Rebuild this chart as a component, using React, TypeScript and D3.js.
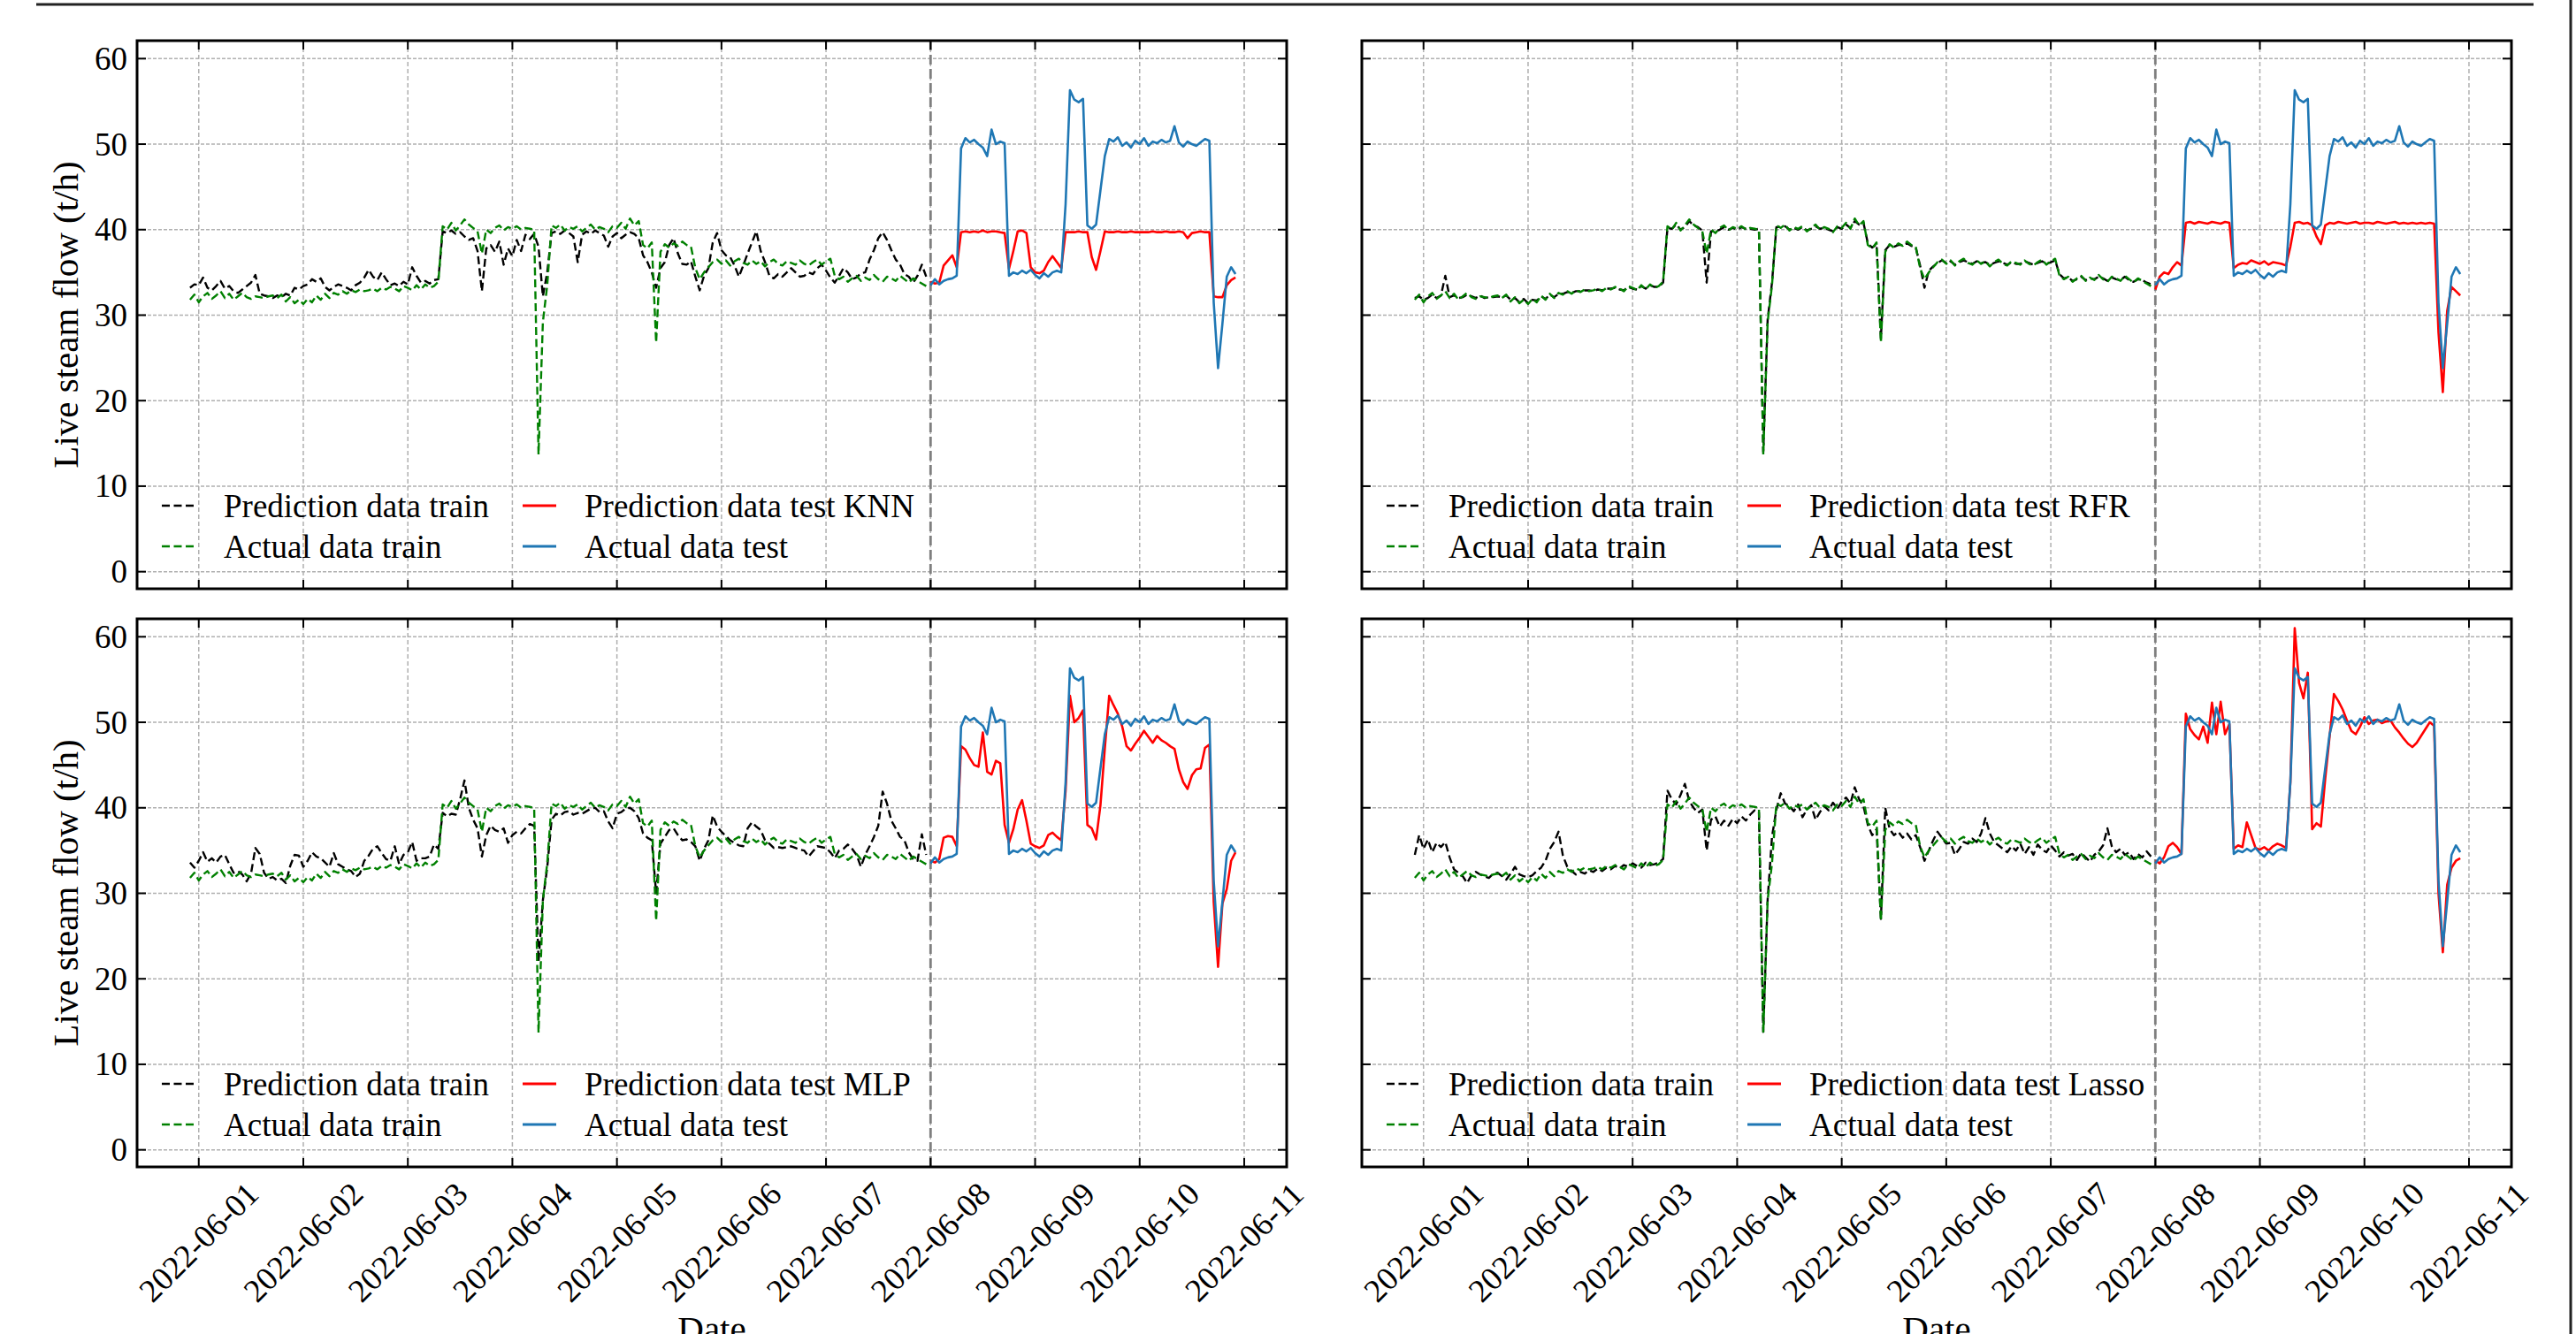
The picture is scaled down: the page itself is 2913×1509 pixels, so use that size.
import React from 'react';
import * as d3 from 'd3';

// hourly samples, hours counted from 2022-06-01 00:00 (UTC)
const trainStartHour = -2;
const testStartHour = 168;
const splitDay = '2022-06-08';

const dateTicks = [
  '2022-06-01', '2022-06-02', '2022-06-03', '2022-06-04', '2022-06-05', '2022-06-06',
  '2022-06-07', '2022-06-08', '2022-06-09', '2022-06-10', '2022-06-11',
];
const valueTicks = [0, 10, 20, 30, 40, 50, 60];
const seriesLabels = ['Prediction data train', 'Actual data train', 'Prediction data test', 'Actual data test'];
const modelNames = ['KNN', 'RFR', 'MLP', 'Lasso'];

// measured steam flow, train period (h -2 .. 167)
const actualTrain = [
  31.8, 32.4, 31.5, 32.2, 32.6, 31.9, 32.3, 32.8, 32.0, 32.5,
  31.8, 32.2, 32.6, 32.1, 31.9, 32.2, 32.1, 32.0, 32.2, 32.3,
  32.0, 32.4, 31.6, 32.1, 31.4, 31.8, 31.3, 31.9, 31.5, 32.3,
  31.8, 32.5, 32.0, 32.6, 32.4, 32.8, 32.5, 32.9, 32.7, 33.0,
  32.8, 32.9, 33.1, 32.8, 33.2, 33.0, 33.3, 33.1, 32.8, 33.4,
  33.2, 32.9, 33.5, 33.0, 33.6, 33.2, 33.4, 33.9, 40.4, 40.0,
  40.8, 39.9, 40.5, 41.2, 40.6, 40.2, 39.8, 37.2, 40.0, 39.6,
  40.2, 40.5, 39.9, 40.3, 40.1, 40.4, 40.0, 40.2, 40.1, 40.0,
  13.7, 29.2, 33.5, 40.5, 40.2, 40.6, 39.9, 40.3, 40.1, 40.4,
  39.8, 40.2, 40.6, 40.0, 40.3, 40.1, 39.7, 40.4, 40.2, 40.8,
  40.1, 41.3, 40.5, 41.0, 38.2, 37.8, 38.5, 26.8, 37.4, 38.3,
  37.9, 38.4, 38.1, 38.6, 38.2, 38.0, 35.5, 34.2, 35.0, 35.6,
  36.2, 36.5, 36.0, 36.4, 35.8, 36.3, 36.6, 36.1, 35.9, 36.4,
  36.0, 36.3, 35.7, 36.2, 36.5, 36.0, 35.8, 36.3, 36.1, 35.9,
  36.4, 36.0, 35.8, 36.2, 36.5, 35.9, 36.3, 36.6, 34.6, 34.2,
  34.5, 33.9, 34.3, 34.6, 34.0, 34.4, 34.1, 34.7, 34.2, 33.9,
  34.5, 34.3, 34.0, 34.6, 34.2, 33.8, 34.3, 34.0, 33.7, 33.4,
];

// measured steam flow, test period (h 168 .. 238)
const actualTest = [
  33.5, 34.2, 33.6, 34.0, 34.2, 34.3, 34.6, 49.5, 50.7, 50.2,
  50.5, 50.0, 49.6, 48.6, 51.7, 50.0, 50.3, 50.1, 34.6, 35.0,
  34.8, 35.2, 34.9, 35.3, 34.7, 34.3, 34.9, 34.5, 35.0, 35.2,
  35.0, 43.0, 56.3, 55.2, 54.9, 55.3, 40.5, 40.1, 40.6, 44.6,
  48.6, 50.6, 50.3, 50.8, 49.8, 50.2, 49.6, 50.4, 50.0, 50.7,
  49.8, 50.3, 50.1, 50.5, 50.2, 50.4, 52.1, 50.2, 49.7, 50.3,
  50.0, 49.8, 50.2, 50.6, 50.4, 31.5, 23.8, 29.0, 34.5, 35.6,
  34.8,
];

const knnTrain = [
  33.2, 33.6, 33.5, 34.4, 33.2, 32.9, 33.4, 34.0, 33.1, 33.4,
  32.8, 32.6, 33.0, 33.4, 33.8, 34.7, 32.5, 32.3, 32.2, 32.0,
  32.3, 32.1, 32.5, 32.3, 33.2, 33.0, 33.4, 33.6, 34.2, 33.9,
  34.3, 33.3, 32.9, 33.3, 33.6, 33.4, 33.2, 32.9, 33.5, 33.8,
  34.4, 35.3, 34.5, 34.1, 35.0, 34.2, 33.5, 33.7, 33.4, 33.9,
  33.6, 35.6, 34.6, 33.8, 34.0, 33.7, 34.1, 34.2, 39.8, 39.6,
  39.9, 39.5, 39.7, 39.2, 38.8, 39.0, 37.5, 32.8, 37.8, 38.2,
  37.4, 38.6, 35.9, 37.8, 36.9, 38.8, 37.5, 39.4, 38.9, 39.5,
  38.0, 32.2, 35.0, 39.6, 39.8, 39.5, 39.9, 39.6, 39.2, 36.2,
  39.4, 39.8, 39.5, 39.9, 39.6, 39.3, 38.0, 39.2, 39.6, 39.0,
  39.4, 39.7, 39.5, 39.0, 37.0, 36.2, 35.0, 33.2, 35.5, 36.2,
  38.2, 39.0, 37.2, 36.0, 35.9, 36.3, 34.5, 32.9, 34.6, 35.5,
  38.5, 39.6, 37.6, 37.0, 36.8, 35.8, 34.5, 35.8, 37.2, 38.5,
  39.8, 37.5, 36.2, 34.6, 34.3, 34.8, 34.5, 35.0, 35.5, 35.0,
  34.5, 34.6, 35.0, 34.8, 35.5, 35.9, 35.2, 34.4, 33.8, 34.6,
  35.5, 35.0, 34.2, 34.4, 34.9, 35.0, 36.5, 37.6, 39.0, 39.7,
  38.8, 37.6, 36.5, 35.9, 34.8, 34.5, 33.8, 34.6, 35.9, 34.5,
];
const knnTest = [
  33.9, 33.7, 33.8, 35.8, 36.4, 37.0, 35.6, 39.7, 39.8, 39.7,
  39.8, 39.7, 39.9, 39.7, 39.8, 39.8, 39.7, 39.6, 35.4, 37.5,
  39.8, 39.9, 39.6, 35.6, 35.0, 34.9, 35.2, 36.2, 36.9, 36.2,
  35.5, 39.7, 39.7, 39.7, 39.8, 39.7, 39.7, 36.8, 35.3, 37.5,
  39.8, 39.7, 39.7, 39.8, 39.7, 39.7, 39.8, 39.7, 39.7, 39.7,
  39.7, 39.8, 39.7, 39.7, 39.8, 39.7, 39.7, 39.8, 39.7, 39.0,
  39.6, 39.7, 39.8, 39.7, 39.7, 32.2, 32.1, 32.1, 33.5, 34.1,
  34.4,
];

const rfrTrain = [
  32.0, 32.2, 31.8, 32.0, 32.4, 32.0, 32.3, 34.6, 32.1, 32.3,
  32.0, 32.1, 32.4, 32.2, 32.0, 32.3, 32.0, 32.1, 32.1, 32.2,
  32.1, 32.3, 31.8, 32.0, 31.5, 31.9, 31.4, 31.8, 31.7, 32.2,
  31.9, 32.4, 32.1, 32.5, 32.5, 32.7, 32.6, 32.8, 32.8, 32.9,
  32.9, 32.8, 33.0, 32.9, 33.1, 33.1, 33.2, 33.0, 32.9, 33.3,
  33.1, 33.0, 33.4, 33.1, 33.5, 33.3, 33.3, 33.8, 40.2, 40.1,
  40.6, 40.0, 40.3, 41.0, 40.5, 40.3, 39.9, 33.8, 39.8, 39.8,
  40.0, 40.3, 40.0, 40.2, 40.0, 40.3, 40.1, 40.1, 40.0, 40.1,
  14.0, 29.5, 33.8, 40.3, 40.3, 40.4, 40.0, 40.2, 40.0, 40.3,
  39.9, 40.1, 40.4, 40.1, 40.2, 40.0, 39.8, 40.3, 40.1, 40.6,
  40.2, 41.0, 40.6, 40.8, 38.4, 37.9, 38.3, 27.3, 37.6, 38.2,
  38.0, 38.2, 38.2, 38.4, 38.1, 37.9, 35.8, 33.2, 35.2, 35.7,
  36.1, 36.4, 36.1, 36.3, 35.9, 36.2, 36.4, 36.2, 36.0, 36.3,
  36.1, 36.2, 35.9, 36.1, 36.3, 36.1, 35.9, 36.2, 36.0, 36.0,
  36.3, 36.1, 35.9, 36.1, 36.3, 36.0, 36.2, 36.4, 34.8, 34.3,
  34.4, 34.0, 34.2, 34.5, 34.1, 34.3, 34.2, 34.5, 34.3, 34.0,
  34.4, 34.2, 34.1, 34.5, 34.1, 33.9, 34.2, 34.1, 33.8, 33.6,
];
const rfrTest = [
  33.0, 34.5, 35.0, 34.8, 35.6, 36.2, 35.8, 40.8, 40.9, 40.7,
  40.9, 40.8, 40.7, 40.9, 40.8, 40.7, 40.9, 40.8, 35.5, 35.9,
  36.1, 36.0, 36.4, 36.2, 36.0, 36.3, 35.9, 36.2, 36.1, 36.0,
  35.8, 38.0, 40.8, 40.9, 40.7, 40.8, 40.5, 39.2, 38.3, 40.5,
  40.8, 40.7, 40.9, 40.8, 40.7, 40.8, 40.9, 40.7, 40.8, 40.8,
  40.7, 40.9, 40.8, 40.7, 40.8, 40.9, 40.7, 40.8, 40.7, 40.8,
  40.7, 40.8, 40.7, 40.8, 40.7, 28.0, 21.0, 30.5, 33.3, 32.8,
  32.3,
];

const mlpTrain = [
  33.6, 33.0, 33.8, 34.8, 33.7, 34.1, 33.6, 34.3, 34.5, 33.4,
  32.4, 32.6, 32.2, 31.4, 32.3, 35.3, 34.6, 32.4, 31.7, 31.9,
  31.5, 31.7, 31.2, 33.2, 34.5, 34.4, 33.1, 33.8, 34.8, 34.3,
  34.1, 33.6, 33.1, 34.7, 33.4, 33.1, 32.8, 32.6, 31.9, 32.3,
  33.8, 34.4, 35.2, 35.5, 34.7, 34.0, 33.8, 35.5, 33.4, 34.5,
  34.8, 36.0, 33.8, 34.1, 34.1, 34.3, 35.7, 35.2, 39.4, 39.0,
  39.3, 39.2, 41.0, 43.2, 40.0, 38.6, 37.6, 34.3, 36.8, 37.9,
  37.4, 37.2, 37.6, 35.9, 36.8, 37.2, 37.0, 37.6, 38.1, 37.9,
  22.0, 29.2, 33.0, 38.6, 39.3, 39.1, 39.5, 39.6, 39.2, 39.4,
  39.3, 39.6, 39.9, 40.0, 39.5, 39.6, 38.4, 37.6, 39.3, 39.5,
  39.9, 40.0, 39.6, 38.8, 37.0, 36.5, 36.2, 30.0, 35.8, 36.6,
  37.4, 37.6, 36.8, 36.2, 36.3, 36.0, 35.5, 33.8, 35.2, 36.2,
  39.1, 37.8, 37.2, 36.7, 36.2, 35.9, 35.6, 35.5, 37.6, 38.3,
  37.8, 37.4, 36.2, 35.8, 35.3, 35.4, 35.3, 35.4, 35.5, 35.3,
  35.1, 35.0, 34.3, 34.9, 35.5, 35.4, 35.3, 34.8, 34.1, 35.0,
  35.2, 35.7, 35.2, 34.5, 33.1, 34.5, 35.5, 36.6, 37.9, 41.9,
  40.5, 38.5, 37.6, 36.6, 36.2, 34.8, 34.0, 33.8, 36.9, 34.5,
];
const mlpTest = [
  33.8, 33.6, 34.0, 36.5, 36.7, 36.6, 35.5, 47.2, 46.8, 45.8,
  45.0, 44.8, 48.8, 44.2, 43.9, 45.5, 45.2, 38.0, 35.9, 37.5,
  39.8, 40.9, 38.5, 35.8, 35.5, 35.3, 35.6, 36.8, 37.1, 36.6,
  36.2, 42.0, 53.1, 50.0, 50.5, 51.4, 38.0, 37.6, 36.3, 40.3,
  46.9, 53.1, 52.0, 51.0, 49.5, 47.2, 46.7, 47.5, 48.2, 49.0,
  48.3, 47.6, 48.4, 47.9, 47.6, 47.2, 46.9, 44.5, 43.0, 42.2,
  43.8, 44.5, 44.6, 47.0, 47.4, 29.0, 21.4, 28.8, 30.5, 33.8,
  34.8,
];

const lassoTrain = [
  34.5, 36.8, 35.2, 36.3, 34.8, 35.9, 35.4, 36.0, 34.2, 32.8,
  32.4, 32.0, 31.2, 32.1, 32.5, 32.2, 32.0, 31.8, 32.3, 32.4,
  32.0, 31.6, 32.3, 33.1, 32.2, 32.0, 31.9, 32.1, 32.6, 33.0,
  33.8, 35.2, 36.0, 37.2, 34.4, 33.1, 32.6, 32.2, 32.5, 32.3,
  32.7, 32.5, 32.9, 32.6, 33.0, 32.8, 33.2, 32.9, 33.3, 33.1,
  33.5, 33.2, 33.0, 33.6, 33.3, 33.4, 33.6, 34.0, 42.0, 41.0,
  40.4, 41.5, 42.8, 40.8, 40.0, 39.4, 39.8, 35.0, 38.6, 39.0,
  37.8, 38.5, 37.9, 38.7, 38.2, 39.0, 38.5, 39.2, 39.7, 39.5,
  13.8, 29.3, 36.6, 39.8, 41.7, 40.5, 40.2, 39.6, 40.4, 38.9,
  39.8, 40.3, 38.6, 39.5, 40.2, 39.7, 40.6, 39.9, 40.7, 41.2,
  40.5, 42.4, 41.0, 40.2, 38.0, 36.8, 37.5, 27.0, 40.0, 37.5,
  36.8, 37.2, 36.5, 37.0, 36.3, 36.8, 35.4, 33.8, 35.0, 36.2,
  37.2, 36.5, 35.8, 35.9, 34.5, 35.2, 36.0, 35.8, 36.4, 36.0,
  37.0, 38.8, 37.0, 36.0, 35.6, 35.2, 34.8, 35.5, 35.0, 35.8,
  34.6, 35.4, 34.5, 35.7, 35.1, 34.8, 35.6, 35.0, 34.3, 34.8,
  34.4, 34.6, 33.9, 34.7, 34.2, 33.7, 34.5, 34.9, 35.6, 37.6,
  35.5, 34.8, 35.2, 34.5, 34.8, 34.0, 34.6, 34.2, 34.9, 34.3,
];
const lassoTest = [
  33.8, 33.5, 34.2, 35.5, 35.9, 35.4, 34.6, 51.0, 49.2, 48.5,
  48.0, 49.5, 47.6, 52.3, 48.6, 52.4, 48.6, 49.8, 35.2, 35.6,
  35.4, 38.3, 36.8, 35.3, 35.1, 35.4, 35.0, 35.5, 35.8, 35.6,
  35.3, 43.0, 61.0, 54.6, 52.8, 55.8, 37.5, 38.2, 37.8, 43.4,
  48.3, 53.3, 52.5, 51.5, 50.2, 49.0, 48.6, 49.5, 50.6, 49.8,
  50.2, 50.3, 49.9, 50.1, 50.2, 49.4, 48.8, 48.1, 47.5, 47.1,
  47.6, 48.4, 49.2, 50.0, 49.6, 30.0, 23.1, 31.0, 33.0, 33.8,
  34.1,
];

const predTrain = [knnTrain, rfrTrain, mlpTrain, lassoTrain];
const predTest = [knnTest, rfrTest, mlpTest, lassoTest];

// layout
const FIG_W = 2913;
const FIG_H = 1509;
const PW = 1300;
const PH = 620;
const panelPos = [[155, 46], [1540, 46], [155, 700], [1540, 700]];
const FONT = "'Liberation Serif', 'Times New Roman', serif";
const C_BLACK = '#000000';
const C_GREEN = '#008000';
const C_RED = '#ff0000';
const C_BLUE = '#1f77b4';
const C_GRID = '#b0b0b0';

const parseDay = d3.utcParse('%Y-%m-%d');
const t0 = parseDay('2022-06-01')!.getTime();
const atHour = (h: number) => new Date(t0 + h * 3600e3);

const x = d3.scaleUtc().domain([atHour(-14.16), atHour(249.75)]).range([0, PW]);
const y = d3.scaleLinear().domain([-2, 62.1]).range([PH, 0]);

const makeLine = (start: number) =>
  d3.line<number>()
    .x((_, i) => x(atHour(start + i)))
    .y((v) => y(v));

function Panel({ idx }: { idx: number }) {
  const [px, py] = panelPos[idx];
  const showY = idx % 2 === 0;
  const showX = idx >= 2;
  const trainPath = makeLine(trainStartHour);
  const testPath = makeLine(testStartHour);
  const ticksX = dateTicks.map((d) => parseDay(d)!);
  const splitX = x(parseDay(splitDay)!);
  const legend = [
    { label: seriesLabels[0], color: C_BLACK, dash: '9,4.5' },
    { label: seriesLabels[1], color: C_GREEN, dash: '9,4.5' },
    { label: `${seriesLabels[2]} ${modelNames[idx]}`, color: C_RED, dash: null },
    { label: seriesLabels[3], color: C_BLUE, dash: null },
  ];
  const fmt = d3.utcFormat('%Y-%m-%d');

  return (
    <g transform={`translate(${px},${py})`}>
      <defs>
        <clipPath id={`clip-${idx}`}>
          <rect x={0} y={0} width={PW} height={PH} />
        </clipPath>
      </defs>
      {/* grid */}
      {ticksX.map((d, i) => (
        <line key={`gx${i}`} x1={x(d)} x2={x(d)} y1={0} y2={PH}
          stroke={C_GRID} strokeWidth={1.5} strokeDasharray="5,3" />
      ))}
      {valueTicks.map((v) => (
        <line key={`gy${v}`} x1={0} x2={PW} y1={y(v)} y2={y(v)}
          stroke={C_GRID} strokeWidth={1.5} strokeDasharray="4,2" />
      ))}
      {/* train / test split */}
      <line x1={splitX} x2={splitX} y1={0} y2={PH} stroke="#7f7f7f"
        strokeWidth={2.8} strokeDasharray="11,5" />
      <g clipPath={`url(#clip-${idx})`} fill="none" strokeLinejoin="round">
        <path d={trainPath(predTrain[idx]) || ''} stroke={C_BLACK} strokeWidth={2.4} strokeDasharray="9,4.5" />
        <path d={trainPath(actualTrain) || ''} stroke={C_GREEN} strokeWidth={2.4} strokeDasharray="9,4.5" />
        <path d={testPath(predTest[idx]) || ''} stroke={C_RED} strokeWidth={2.6} />
        <path d={testPath(actualTest) || ''} stroke={C_BLUE} strokeWidth={2.6} />
      </g>
      {/* legend */}
      {legend.map((e, i) => {
        const col = Math.floor(i / 2);
        const row = i % 2;
        const lx = col === 0 ? 28 : 436;
        const ly = PH - 94 + row * 46;
        return (
          <g key={`lg${i}`}>
            <line x1={lx} x2={lx + 38} y1={ly} y2={ly} stroke={e.color}
              strokeWidth={e.dash ? 2.6 : 3.2} strokeDasharray={e.dash || undefined} />
            <text x={lx + 70} y={ly} dominantBaseline="central" fontFamily={FONT}
              fontSize={37} fill="#000">{e.label}</text>
          </g>
        );
      })}
      {/* ticks on all four sides, pointing inward */}
      {ticksX.map((d, i) => (
        <g key={`tx${i}`}>
          <line x1={x(d)} x2={x(d)} y1={PH} y2={PH - 10} stroke="#000" strokeWidth={2} />
          <line x1={x(d)} x2={x(d)} y1={0} y2={10} stroke="#000" strokeWidth={2} />
        </g>
      ))}
      {valueTicks.map((v) => (
        <g key={`ty${v}`}>
          <line x1={0} x2={10} y1={y(v)} y2={y(v)} stroke="#000" strokeWidth={2} />
          <line x1={PW} x2={PW - 10} y1={y(v)} y2={y(v)} stroke="#000" strokeWidth={2} />
        </g>
      ))}
      <rect x={0} y={0} width={PW} height={PH} fill="none" stroke="#000" strokeWidth={3} />
      {showY && valueTicks.map((v) => (
        <text key={`yl${v}`} x={-11} y={y(v)} textAnchor="end" dominantBaseline="central"
          fontFamily={FONT} fontSize={37}>{v}</text>
      ))}
      {showY && (
        <text transform={`translate(-81,${PH / 2}) rotate(-90)`} textAnchor="middle"
          dominantBaseline="central" fontFamily={FONT} fontSize={41}>Live steam flow (t/h)</text>
      )}
      {showX && ticksX.map((d, i) => (
        <text key={`xl${i}`} transform={`translate(${x(d)},${PH + 85}) rotate(-45)`}
          textAnchor="middle" dominantBaseline="central" fontFamily={FONT} fontSize={37}>{fmt(d)}</text>
      ))}
      {showX && (
        <text x={PW / 2} y={817} textAnchor="middle" fontFamily={FONT} fontSize={41}>Date</text>
      )}
    </g>
  );
}

export default function App() {
  return (
    <div style={{ position: 'absolute', left: 0, top: 0, width: FIG_W, height: FIG_H, background: '#fff' }}>
      <svg width={FIG_W} height={FIG_H} viewBox={`0 0 ${FIG_W} ${FIG_H}`} style={{ display: 'block' }}>
        <rect width={FIG_W} height={FIG_H} fill="#fff" />
        <line x1={41} x2={2865} y1={5} y2={5} stroke="#222" strokeWidth={3} />
        <line x1={2907} x2={2907} y1={0} y2={FIG_H} stroke="#222" strokeWidth={3} />
        {[0, 1, 2, 3].map((i) => <Panel key={i} idx={i} />)}
      </svg>
    </div>
  );
}
